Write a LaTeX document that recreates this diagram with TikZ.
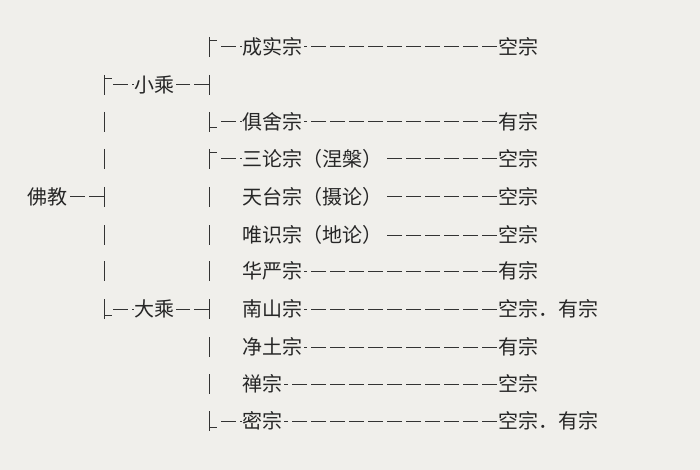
\documentclass[tikz,border=0pt]{standalone}
\usepackage{fontspec}
\setmainfont{Noto Sans CJK SC}
\begin{document}
\begin{tikzpicture}[x=1pt,y=-1pt,
  lbl/.style={anchor=west,inner sep=0pt,font=\fontsize{20}{22}\selectfont,text=black!85},
  dsh/.style={draw=black!80,line width=1pt,dash pattern=on 15pt off 4pt},
  bar/.style={draw=black!80,line width=1pt}]
\fill[fill={rgb,255:red,240;green,239;blue,235}] (0,0) rectangle (700,470);
\useasboundingbox (0,0) rectangle (700,470);
% root
\node[lbl] (root) at (27,197) {佛教};
\node[lbl] (xc) at (134,85) {小乘};
\node[lbl] (dc) at (134,309) {大乘};
% first bracket column x=104
\coordinate (c1) at (104,197);
\draw[dsh] (c1) -- ([xshift=2pt]root.east);
\foreach \y in {85,122,159,197,235,271,309}{\draw[bar] (104,\y-10) -- (104,\y+10);}
\draw[bar] (104,85-6) -- (112,85-6);
\draw[bar] (104,309+6) -- (112,309+6);
\coordinate (a1) at (113,85); \coordinate (a2) at (113,309);
\draw[dsh] (a1) -- (xc.west); \draw[dsh] (a2) -- (dc.west);
% second columns x=209
\coordinate (b1) at (209,85); \coordinate (b2) at (209,309);
\draw[dsh] (b1) -- ([xshift=2pt]xc.east); \draw[dsh] (b2) -- ([xshift=2pt]dc.east);
\foreach \y in {47,85,122,159,197,235,271,309,347,384,421}{\draw[bar] (209,\y-10) -- (209,\y+10);}
\foreach \y in {47,159}{\draw[bar] (209,\y-6) -- (217,\y-6);}
\foreach \y in {122,421}{\draw[bar] (209,\y+6) -- (217,\y+6);}
% schools
\foreach \n/\y/\s/\r in {s0/47/成实宗/空宗, s1/122/俱舍宗/有宗, s2/159/三论宗（涅槃）/空宗, s3/197/天台宗（摄论）/空宗, s4/235/唯识宗（地论）/空宗, s5/271/华严宗/有宗, s6/309/南山宗/空宗．有宗, s7/347/净土宗/有宗, s8/384/禅宗/空宗, s9/421/密宗/空宗．有宗}{
  \node[lbl] (\n) at (242,\y) {\s};
  \node[lbl] (\n r) at (498,\y) {\r};
  \draw[dsh] ([xshift=-1pt]\n r.west) -- ([xshift=2pt]\n.east);
}
\foreach \n/\y in {s0/47,s1/122,s2/159,s9/421}{\coordinate (\n c) at (221,\y); \draw[dsh] (\n c) -- (\n.west);}
\end{tikzpicture}
\end{document}
